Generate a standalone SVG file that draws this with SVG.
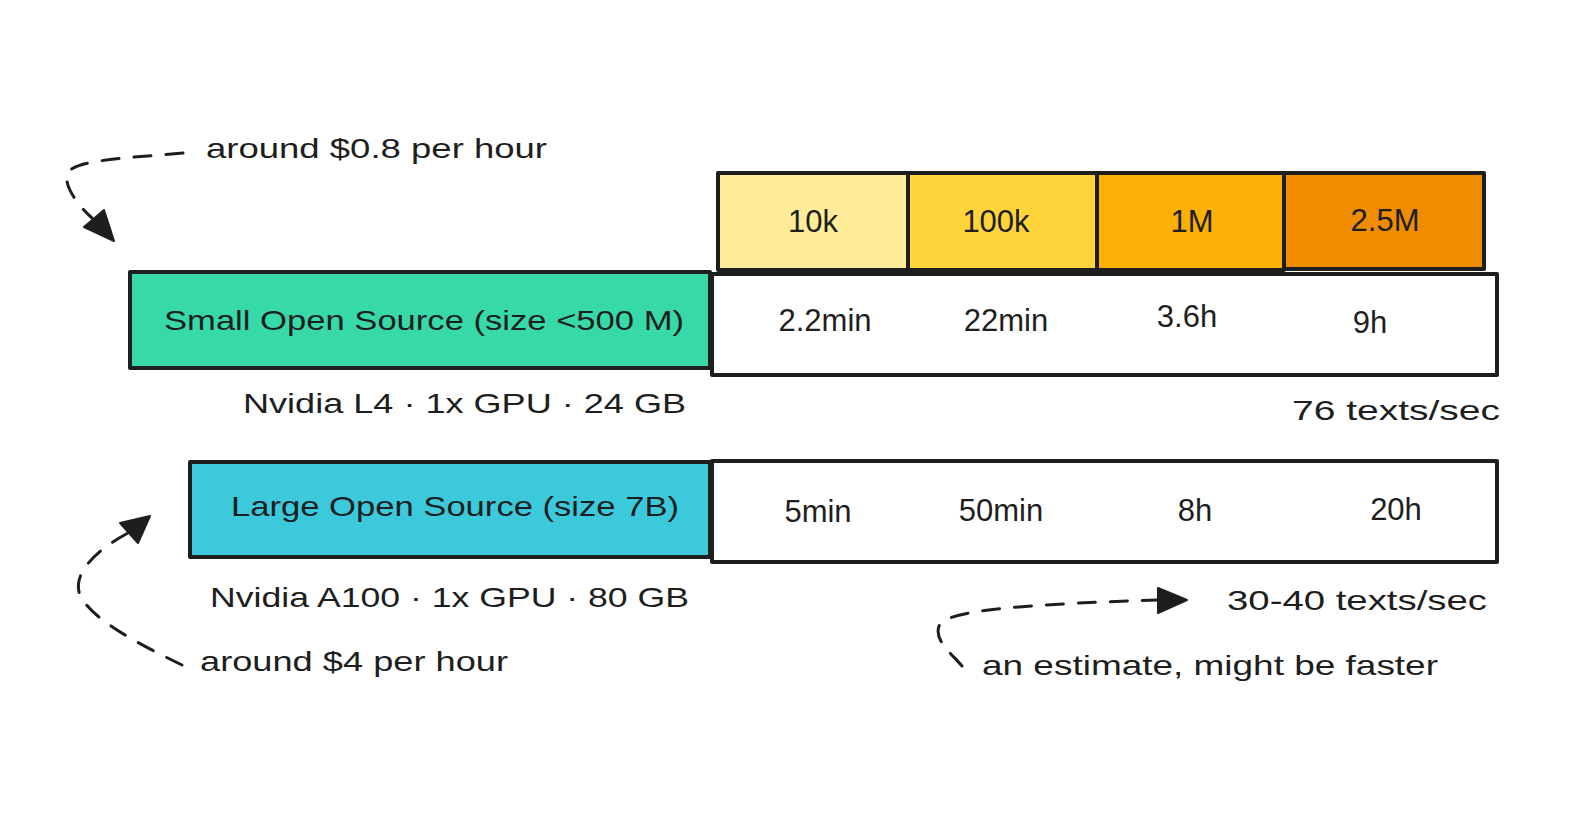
<svg xmlns="http://www.w3.org/2000/svg" width="1588" height="818" viewBox="0 0 1588 818">
<style>
.box{stroke:#1e1e1e;stroke-width:4;stroke-linejoin:round}
.t{font-family:"Liberation Sans","DejaVu Sans",sans-serif;font-size:28px;fill:#1e1e1e;dominant-baseline:central}
.v{font-size:31px}
.c{text-anchor:middle}
.e{text-anchor:end}
.dash{fill:none;stroke:#1e1e1e;stroke-width:3;stroke-linecap:round;stroke-dasharray:17 15}
.head{fill:#1e1e1e;stroke:#1e1e1e;stroke-width:2;stroke-linejoin:round}
</style>
<rect width="1588" height="818" fill="#ffffff"/>
<g id="header-10k"><rect class="box" x="718" y="173" width="190" height="97" fill="#ffec99"/><text class="t v c" x="813" y="221">10k</text></g>
<g id="header-100k"><rect class="box" x="908" y="173" width="189" height="97" fill="#ffd43b"/><text class="t v c" x="996" y="221">100k</text></g>
<g id="header-1M"><rect class="box" x="1097" y="173" width="187" height="97" fill="#fab005"/><text class="t v c" x="1192" y="221">1M</text></g>
<g id="header-2.5M"><rect class="box" x="1284" y="173" width="200" height="96" fill="#f08c00"/><text class="t v c" x="1385" y="220">2.5M</text></g>
<g id="small-model"><rect class="box" x="130" y="272" width="580" height="96" fill="#38d9a9"/><text class="t" x="164" y="320" textLength="520" lengthAdjust="spacingAndGlyphs">Small Open Source (size &lt;500 M)</text></g>
<g id="small-times"><rect class="box" x="712" y="274" width="785" height="101" fill="#ffffff"/>
<text class="t v c" x="825" y="320">2.2min</text><text class="t v c" x="1006" y="320">22min</text><text class="t v c" x="1187" y="316">3.6h</text><text class="t v c" x="1370" y="322">9h</text></g>
<g id="small-hw"><text class="t" x="243" y="403" textLength="443" lengthAdjust="spacingAndGlyphs">Nvidia L4 · 1x GPU · 24 GB</text></g>
<g id="small-rate"><text class="t" x="1292" y="410" textLength="208" lengthAdjust="spacingAndGlyphs">76 texts/sec</text></g>
<g id="small-cost"><text class="t" x="206" y="148" textLength="341" lengthAdjust="spacingAndGlyphs">around $0.8 per hour</text></g>
<g id="large-model"><rect class="box" x="190" y="462" width="520" height="95" fill="#3bc9db"/><text class="t" x="231" y="506" textLength="448" lengthAdjust="spacingAndGlyphs">Large Open Source (size 7B)</text></g>
<g id="large-times"><rect class="box" x="712" y="461" width="785" height="101" fill="#ffffff"/>
<text class="t v c" x="818" y="511">5min</text><text class="t v c" x="1001" y="510">50min</text><text class="t v c" x="1195" y="510">8h</text><text class="t v c" x="1396" y="509">20h</text></g>
<g id="large-hw"><text class="t" x="210" y="597" textLength="479" lengthAdjust="spacingAndGlyphs">Nvidia A100 · 1x GPU · 80 GB</text></g>
<g id="large-rate"><text class="t" x="1227" y="600" textLength="260" lengthAdjust="spacingAndGlyphs">30-40 texts/sec</text></g>
<g id="large-cost"><text class="t" x="200" y="661" textLength="308" lengthAdjust="spacingAndGlyphs">around $4 per hour</text></g>
<g id="estimate-note"><text class="t" x="982" y="665" textLength="456" lengthAdjust="spacingAndGlyphs">an estimate, might be faster</text></g>
<g id="connectors">
<path class="dash" d="M 183 153 C 125 158 78 160 68 172 C 62 182 76 204 92 218"/>
<polygon class="head" points="114,241 84,227 104,210"/>
<path class="dash" d="M 182 665 C 130 640 86 615 79 592 C 74 570 100 548 128 533"/>
<polygon class="head" points="150,516 120,523 138,543"/>
<path class="dash" d="M 962 666 C 950 652 934 640 939 626 C 945 612 1000 605 1158 600"/>
<polygon class="head" points="1187,600 1158,588 1158,613"/>
</g>
</svg>
